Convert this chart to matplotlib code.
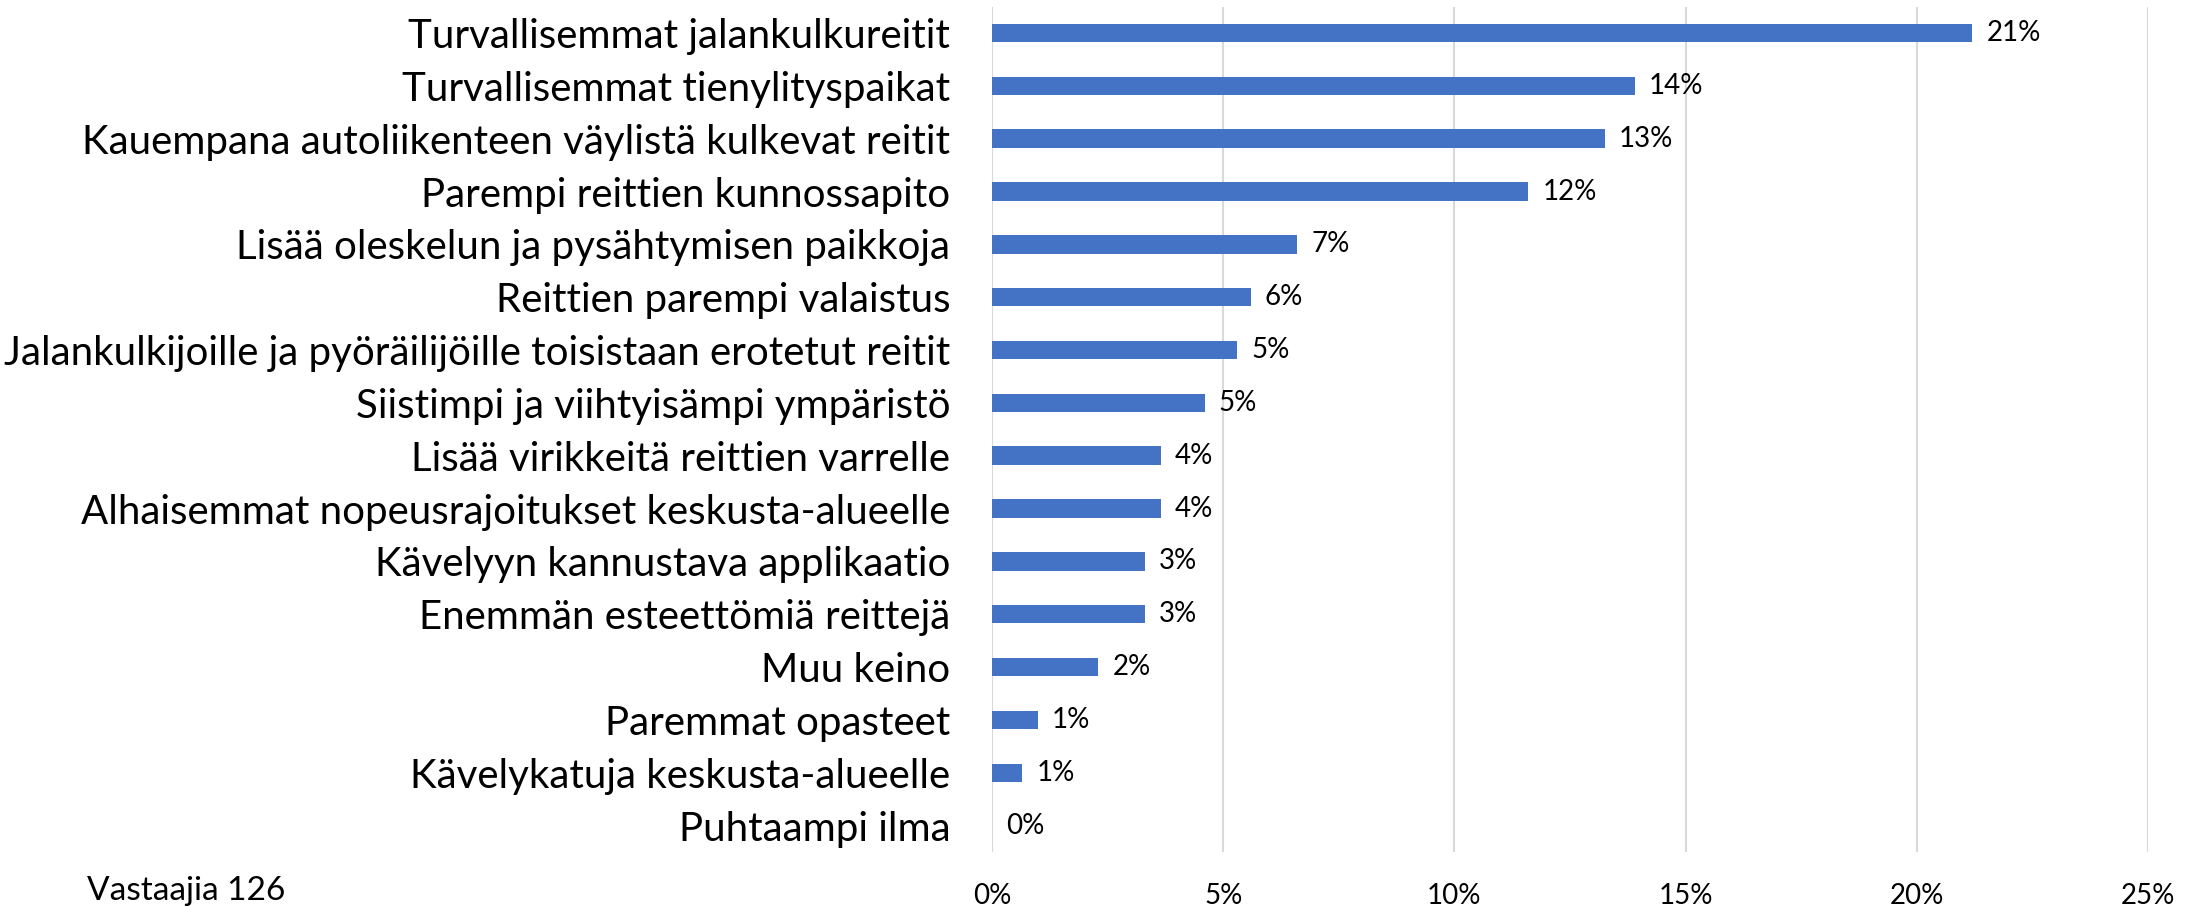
import matplotlib
matplotlib.use("Agg")
import matplotlib.pyplot as plt
from matplotlib.ticker import FuncFormatter

plt.rcParams['font.family'] = ['Lato', 'DejaVu Sans']

# Data (share of mentions, %), top to bottom as in the chart
categories = [
    "Turvallisemmat jalankulkureitit",
    "Turvallisemmat tienylityspaikat",
    "Kauempana autoliikenteen väylistä kulkevat reitit",
    "Parempi reittien kunnossapito",
    "Lisää oleskelun ja pysähtymisen paikkoja",
    "Reittien parempi valaistus",
    "Jalankulkijoille ja pyöräilijöille toisistaan erotetut reitit",
    "Siistimpi ja viihtyisämpi ympäristö",
    "Lisää virikkeitä reittien varrelle",
    "Alhaisemmat nopeusrajoitukset keskusta-alueelle",
    "Kävelyyn kannustava applikaatio",
    "Enemmän esteettömiä reittejä",
    "Muu keino",
    "Paremmat opasteet",
    "Kävelykatuja keskusta-alueelle",
    "Puhtaampi ilma",
]
values = [21.2, 13.9, 13.25, 11.6, 6.6, 5.6, 5.3, 4.6, 3.65, 3.65,
          3.3, 3.3, 2.3, 0.99, 0.66, 0.0]
x_ticks = [0, 5, 10, 15, 20, 25]
note = "Vastaajia 126"

fig = plt.figure(figsize=(21.99, 9.06), dpi=100)
ax = fig.add_axes([0.4511, 0.0596, 0.5257, 0.9331])

y = list(range(len(categories)))
ax.barh(y, values, height=0.35, color='#4472C4', zorder=3)

for yi, v in zip(y, values):
    ax.annotate(f"{v:.0f}%", (v, yi), xytext=(14, 0), textcoords='offset pixels',
                va='center', ha='left', fontsize=20, color='#000000')

ax.set_ylim(len(categories) - 0.5, -0.5)
ax.set_yticks(y)
ax.set_yticklabels(categories, fontsize=29)
ax.set_xlim(0, 25)
ax.set_xticks(x_ticks)
ax.xaxis.set_major_formatter(FuncFormatter(lambda v, p: f"{v:.0f}%"))
ax.tick_params(axis='x', labelsize=20, length=0, pad=22)
ax.tick_params(axis='y', length=0, pad=30)
ax.grid(axis='x', color='#d9d9d9', linewidth=1.5, zorder=0)
for s in ax.spines.values():
    s.set_visible(False)

fig.text(87 / 2199, 1 - 891 / 906, note, fontsize=24, ha='left', va='center')

fig.savefig('out.png', dpi=100)
